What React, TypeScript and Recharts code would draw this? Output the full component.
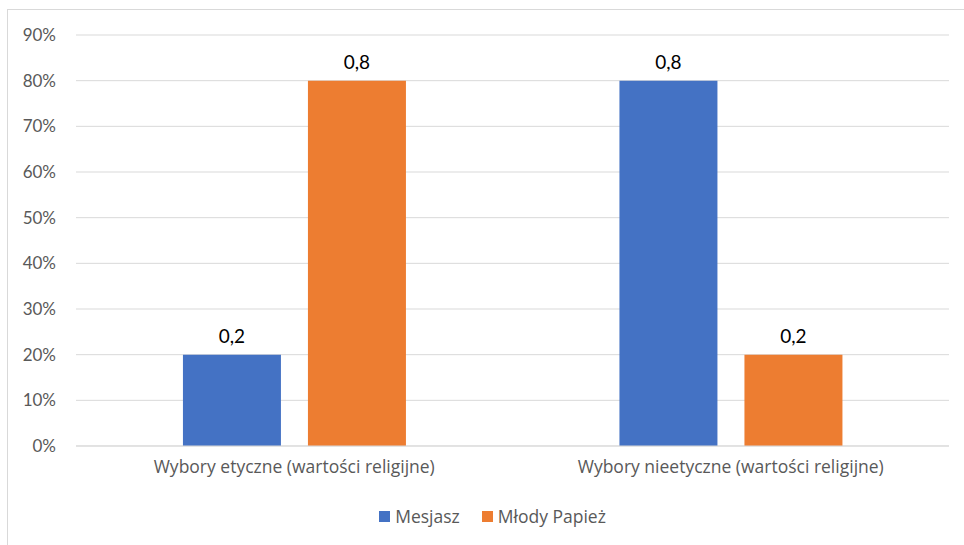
import React from "react";
import { BarChart, Bar, XAxis, YAxis, CartesianGrid, Legend, LabelList } from "recharts";

const categories = [
  "Wybory etyczne (wartości religijne)",
  "Wybory nieetyczne (wartości religijne)",
];
const mesjasz = [0.2, 0.8];
const mlodyPapiez = [0.8, 0.2];
const yTicks = [0, 0.1, 0.2, 0.3, 0.4, 0.5, 0.6, 0.7, 0.8, 0.9];

const data = categories.map((name, i) => ({
  name,
  mesjasz: mesjasz[i],
  mlodyPapiez: mlodyPapiez[i],
}));

const FONT = "Lato, 'Open Sans', sans-serif";
const TEXT_FONT = "'Open Sans', Lato, sans-serif";
const GRAY = "#595959";

const pct = (v: number) => `${Math.round(v * 100)}%`;
const comma = (v: any) => String(v).replace(".", ",");

const LegendContent = (props: any) => {
  const items = props.payload || [];
  return (
    <div style={{ display: "flex", justifyContent: "center", fontFamily: TEXT_FONT, fontSize: 17.5, color: GRAY, paddingTop: 4, paddingLeft: 36 }}>
      {items.map((it: any, i: number) => (
        <div key={i} style={{ display: "flex", alignItems: "center", marginLeft: i ? 22 : 0 }}>
          <span style={{ width: 11, height: 11, background: it.color, marginRight: 5, display: "inline-block" }} />
          <span>{it.value}</span>
        </div>
      ))}
    </div>
  );
};

export default function App() {
  return (
    <div style={{ position: "absolute", left: 0, top: 0, width: 964, height: 545, background: "#fff", overflow: "hidden" }}>
      <div style={{ position: "absolute", left: 7, top: 9, width: 980, height: 560, border: "1px solid #d9d9d9" }} />
      <BarChart
        width={964}
        height={545}
        data={data}
        margin={{ top: 35, right: 15, left: 0, bottom: 0 }}
        barCategoryGap="24.5%"
        barGap={27}
        style={{ position: "absolute", left: 0, top: 0 }}
      >
        <CartesianGrid vertical={false} stroke="#d9d9d9" strokeWidth={1} />
        <XAxis
          dataKey="name"
          axisLine={{ stroke: "#d9d9d9" }}
          tickLine={false}
          tick={{ fill: GRAY, fontSize: 17.5, fontFamily: TEXT_FONT }}
          height={54}
          tickMargin={9}
        />
        <YAxis
          domain={[0, 0.9]}
          ticks={yTicks}
          tickFormatter={pct}
          axisLine={false}
          tickLine={false}
          width={76}
          tick={{ fill: GRAY, fontSize: 17, fontFamily: FONT }}
          tickMargin={14}
        />
        <Legend content={<LegendContent />} verticalAlign="bottom" height={45} />
        <Bar dataKey="mesjasz" name="Mesjasz" fill="#4472c4" isAnimationActive={false}>
          <LabelList dataKey="mesjasz" position="top" offset={12} formatter={comma} fill="#000" fontSize={19} fontFamily={FONT} />
        </Bar>
        <Bar dataKey="mlodyPapiez" name="Młody Papież" fill="#ed7d31" isAnimationActive={false}>
          <LabelList dataKey="mlodyPapiez" position="top" offset={12} formatter={comma} fill="#000" fontSize={19} fontFamily={FONT} />
        </Bar>
      </BarChart>
    </div>
  );
}
